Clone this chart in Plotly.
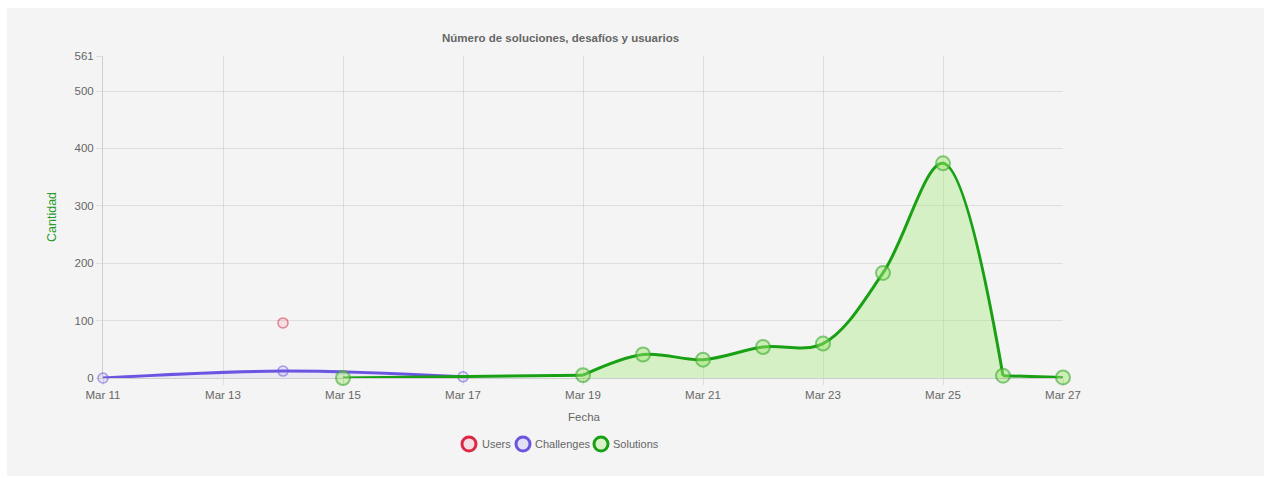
import plotly.graph_objects as go

users_dates = ["2024-03-14"]
users_vals = [96]

chal_dates = ["2024-03-11", "2024-03-14", "2024-03-17"]
chal_vals = [0, 12, 2]

sol_dates = ["2024-03-15", "2024-03-19", "2024-03-20", "2024-03-21", "2024-03-22",
             "2024-03-23", "2024-03-24", "2024-03-25", "2024-03-26", "2024-03-27"]
sol_vals = [0, 5, 41, 32, 54, 60, 183, 374, 4, 1]

legend_names = ["Users", "Challenges", "Solutions"]
y_ticks = [0, 100, 200, 300, 400, 500, 561]

RED = "rgb(220,40,70)"
PURPLE = "rgb(105,85,225)"
GREEN = "rgb(25,160,20)"
GRID = "rgba(0,0,0,0.09)"
FONT = "Liberation Sans, Arial, sans-serif"
FS = 11.5

fig = go.Figure()

# Challenges
fig.add_trace(go.Scatter(
    x=chal_dates, y=chal_vals, mode="lines", name="Challenges",
    line=dict(color=PURPLE, width=3, shape="spline", smoothing=1.0),
    fill="tozeroy", fillcolor="rgba(120,100,230,0.07)", showlegend=False))
fig.add_trace(go.Scatter(
    x=chal_dates, y=chal_vals, mode="markers", name="Challenges", cliponaxis=False,
    marker=dict(size=10, color="rgba(120,100,230,0.12)", line=dict(color="rgba(105,85,225,0.55)", width=1.5)),
    showlegend=False))

# Solutions: flat ends drawn linear (chart clamps curve to the area), middle smooth
fig.add_trace(go.Scatter(
    x=sol_dates[0:2], y=sol_vals[0:2], mode="lines", name="Solutions",
    line=dict(color=GREEN, width=3), showlegend=False))
fig.add_trace(go.Scatter(
    x=sol_dates[1:9], y=sol_vals[1:9], mode="lines", name="Solutions",
    line=dict(color=GREEN, width=3, shape="spline", smoothing=1.0),
    fill="tozeroy", fillcolor="rgba(165,235,120,0.38)", showlegend=False))
fig.add_trace(go.Scatter(
    x=sol_dates[8:10], y=sol_vals[8:10], mode="lines", name="Solutions",
    line=dict(color=GREEN, width=3), showlegend=False))
fig.add_trace(go.Scatter(
    x=sol_dates, y=sol_vals, mode="markers", name="Solutions", cliponaxis=False,
    marker=dict(size=14, color="rgba(160,230,110,0.45)", line=dict(color="rgba(60,170,50,0.6)", width=2)),
    showlegend=False))

# Users
fig.add_trace(go.Scatter(
    x=users_dates, y=users_vals, mode="markers", name="Users", cliponaxis=False,
    marker=dict(size=10, color="rgba(240,160,180,0.25)", line=dict(color="rgba(220,40,70,0.55)", width=1.5)),
    showlegend=False))

# custom compact legend (circle + text) in paper coords
PX0, PW, PY0, PH = 103, 960, 378, 322
def px(x):
    return (x - PX0) / PW
def py(y):
    return (PY0 - y) / PH

legend_specs = [(469, 480, RED, "rgba(240,160,180,0.25)"),
                (523, 533, PURPLE, "rgba(150,140,240,0.2)"),
                (601, 611, GREEN, "rgba(190,240,160,0.5)")]
shapes = [dict(type="rect", xref="paper", yref="paper", x0=px(7), x1=px(1264), y0=py(476), y1=py(8),
               fillcolor="#f4f4f4", line=dict(width=0), layer="below")]
annotations = [
    dict(text="<b>Número de soluciones, desafíos y usuarios</b>", xref="paper", yref="paper",
         x=px(560), y=py(38), xanchor="center", yanchor="middle", showarrow=False,
         font=dict(family=FONT, size=FS, color="#666")),
    dict(text="Cantidad", xref="paper", yref="paper", x=px(52), y=py(217), textangle=-90,
         xanchor="center", yanchor="middle", showarrow=False,
         font=dict(family=FONT, size=12.5, color="#2a9a2a")),
    dict(text="Fecha", xref="paper", yref="paper", x=px(584), y=py(417),
         xanchor="center", yanchor="middle", showarrow=False,
         font=dict(family=FONT, size=FS, color="#666")),
]
for name, (cx, tx, col, fc) in zip(legend_names, legend_specs):
    shapes.append(dict(type="circle", xref="paper", yref="paper", xsizemode="pixel", ysizemode="pixel",
                       xanchor=px(cx), yanchor=py(444), x0=-7, x1=7, y0=-7, y1=7,
                       fillcolor=fc, line=dict(color=col, width=3)))
    annotations.append(dict(text=name, xref="paper", yref="paper", x=px(tx), y=py(444),
                            xanchor="left", yanchor="middle", showarrow=False,
                            font=dict(family=FONT, size=11, color="#666")))

fig.update_layout(
    width=1271, height=478,
    margin=dict(l=103, r=208, t=56, b=100),
    paper_bgcolor="white", plot_bgcolor="rgba(0,0,0,0)",
    font=dict(family=FONT, size=FS, color="#666"),
    showlegend=False,
    shapes=shapes,
    annotations=annotations,
)

fig.update_xaxes(
    type="date", range=["2024-03-11", "2024-03-27"],
    tick0="2024-03-11", dtick=2 * 86400000, tickformat="%b %d",
    showgrid=True, gridcolor=GRID, gridwidth=1,
    ticks="outside", ticklen=6, tickcolor=GRID,
    showline=True, linecolor="rgba(0,0,0,0.15)", zeroline=False, mirror=False,
    tickfont=dict(family=FONT, size=FS, color="#666"),
)
fig.update_yaxes(
    range=[0, 561], tickvals=y_ticks, ticktext=[str(v) for v in y_ticks],
    showgrid=True, gridcolor=GRID, gridwidth=1,
    ticks="outside", ticklen=6, tickcolor=GRID,
    showline=True, linecolor="rgba(0,0,0,0.15)", zeroline=False,
    tickfont=dict(family=FONT, size=FS, color="#666"),
)

fig.write_html("out.html")
